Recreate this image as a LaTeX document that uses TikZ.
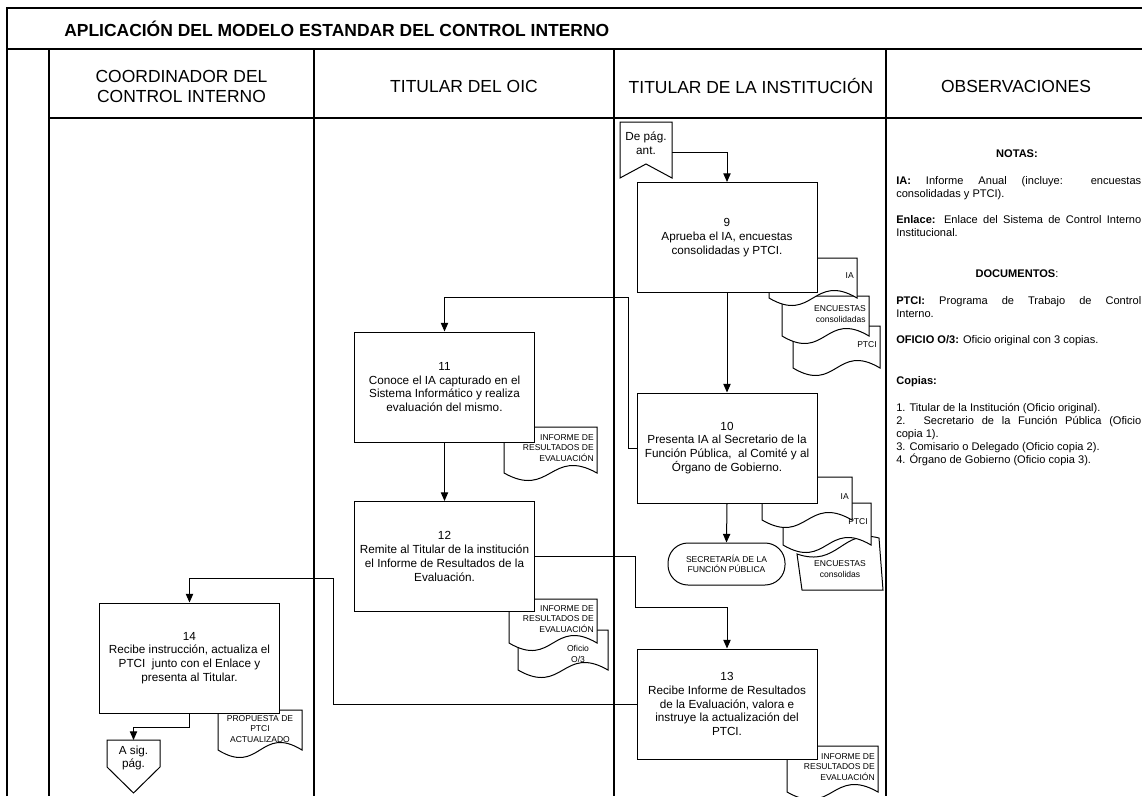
\documentclass[tikz,border=0pt]{standalone}
\usepackage{fontspec}
\setmainfont{Liberation Sans}
\usetikzlibrary{arrows.meta}
\newcommand{\docshape}[6]{%
  \draw[docline] (#2,#3) -- (#4,#3) -- (#4,#5)
    .. controls ({(#2+#4)/2},{#5-26}) and ({(#2+#4)/2},{#5+26}) .. (#2,#5) -- cycle;
  \node[doctext] (#1) at ({#4-3},{(#3+#5)/2-2}) {#6};
}
\begin{document}
\begin{tikzpicture}[x=0.75pt,y=-0.75pt,
  frameline/.style={line width=1pt},
  proc/.style={draw, line width=0.75pt, fill=white, minimum width=135pt, minimum height=82.5pt, align=center, inner sep=2pt, font=\fontsize{8.8}{10.4}\selectfont},
  docline/.style={draw, line width=0.75pt, fill=white},
  doctext/.style={anchor=east, align=right, inner sep=0pt, font=\fontsize{6.4}{8}\selectfont},
  conn/.style={line width=0.75pt, -{Triangle[length=6.5pt,width=5.5pt]}},
  wire/.style={line width=0.75pt},
  lanehead/.style={align=center, inner sep=0pt, font=\fontsize{13.1}{15}\selectfont},
  obs/.style={anchor=base west, inner sep=0pt, align=left, font=\fontsize{8.3}{9.75}\selectfont},
  obshead/.style={anchor=base, inner sep=0pt, font=\fontsize{8.3}{9.75}\selectfont\bfseries},
  pagetext/.style={align=center, inner sep=0pt, font=\fontsize{8.8}{10.4}\selectfont},
]
\path[use as bounding box] (0,0) rectangle (1142,796);

% frame and lanes
\draw[frameline] (7,796) -- (7,8) -- (1142,8);
\draw[frameline] (7,49) -- (1142,49);
\draw[frameline] (49,49) -- (49,796);
\draw[frameline] (49,118) -- (1142,118);
\foreach \x in {314,614,886} \draw[frameline] (\x,49) -- (\x,796);

\node[anchor=west, inner sep=0pt, font=\fontsize{13.1}{15}\selectfont\bfseries] (title) at (64,29) {APLICACIÓN DEL MODELO ESTANDAR DEL CONTROL INTERNO};

\node[lanehead] (h1) at (181.5,86) {COORDINADOR DEL\\CONTROL INTERNO};
\node[lanehead] (h2) at (464,86) {TITULAR DEL OIC};
\node[lanehead] (h3) at (751,86) {TITULAR DE LA INSTITUCIÓN};
\node[lanehead] (h4) at (1016,86) {OBSERVACIONES};

% off-page connectors
\draw[wire, fill=white] (620,122) -- (672,122) -- (672,178) -- (646,164) -- (620,178) -- cycle;
\node[pagetext] (dpa) at (646,143) {De pág.\\ant.};
\coordinate (dpaout) at (672,152);

\draw[wire, fill=white] (107,740) -- (160,740) -- (160,767) -- (133.5,793) -- (107,767) -- cycle;
\node[pagetext] (asig) at (133.5,758) {A sig.\\pág.};
\coordinate (asigin) at (133.5,740);

% documents (drawn back to front)
\docshape{d9c}{793}{326}{880}{368}{PTCI}
\docshape{d9b}{782}{296}{869}{336}{ENCUESTAS\\consolidadas}
\docshape{d9a}{769}{258}{857}{298}{IA}

\draw[docline] (797,554) .. controls (838,568) and (842,528) .. (879,538) -- (883,590) -- (802,590) -- cycle;
\node[doctext, anchor=center, align=center] (d10c) at (840,569) {ENCUESTAS\\consolidas};
\docshape{d10b}{783}{503}{871}{545}{PTCI}
\docshape{d10a}{762}{477}{852}{520}{IA}

\docshape{d11}{504}{427}{597}{473}{INFORME DE\\RESULTADOS DE\\EVALUACIÓN}

\draw[docline] (518,630) -- (608,630) -- (608,670) .. controls (563,644) and (563,696) .. (518,670) -- cycle;
\node[doctext, anchor=center, align=center] (d12b) at (578,654) {Oficio\\O/3};
\docshape{d12a}{509}{599}{597}{643}{INFORME DE\\RESULTADOS DE\\EVALUACIÓN}

\docshape{d13}{787}{746}{878}{792}{INFORME DE\\RESULTADOS DE\\EVALUACIÓN}

\draw[docline] (218,710) -- (302,710) -- (302,750) .. controls (260,724) and (260,776) .. (218,750) -- cycle;
\node[doctext, anchor=center, align=center] (d14) at (260,729) {PROPUESTA DE\\PTCI\\ACTUALIZADO};

% process boxes
\node[proc] (b9) at (727,237.5) {9\\Aprueba el IA, encuestas\\consolidadas y PTCI.};
\node[proc] (b10) at (727,448) {10\\Presenta IA al Secretario de la\\Función Pública,\ \ al Comité y al\\Órgano de Gobierno.};
\node[proc] (b11) at (444.5,387) {11\\Conoce el IA capturado en el\\Sistema Informático y realiza\\evaluación del mismo.};
\node[proc] (b12) at (444.5,556.5) {12\\Remite al Titular de la institución\\el Informe de Resultados de la\\Evaluación.};
\node[proc] (b13) at (727,704) {13\\Recibe Informe de Resultados\\de la Evaluación, valora e\\instruye la actualización del\\PTCI.};
\node[proc] (b14) at (189.5,658) {14\\Recibe instrucción, actualiza el\\PTCI\ \ junto con el Enlace y\\presenta al Titular.};

\node[draw, wire, fill=white, rounded corners=15pt, minimum width=87.75pt, minimum height=31.5pt, align=center, inner sep=1pt, font=\fontsize{6.4}{8}\selectfont] (sfp) at (726.5,564) {SECRETARÍA DE LA\\FUNCIÓN PÚBLICA};

% connectors
\coordinate (c1) at (628,297);
\coordinate (c2) at (635,607);
\coordinate (c3) at (333,578);
\draw[conn] (dpaout) -| (b9.north);
\draw[conn] (b9.south) -- (b10.north);
\draw[conn] (b10.south) -- (sfp.north);
\draw[conn] (b10.west) -| (c1) -| (b11.north);
\draw[conn] (b11.south) -- (b12.north);
\draw[conn] (b12.east) -| (c2) -| (b13.north);
\draw[conn] (b13.west) -| (c3) -| (b14.north);
\draw[conn] (b14.south) -- ++(0,14) -| (asigin);

% observaciones
\node[obshead] (notas) at (1017,157) {NOTAS:};
\node[obs] (o1) at (896,184) {\makebox[183.75pt][s]{\textbf{IA:} Informe Anual (incluye: encuestas}};
\node[obs] (o2) at (896,197) {consolidadas y PTCI).};
\node[obs] (o3) at (896,223) {\makebox[183.75pt][s]{\textbf{Enlace:} Enlace del Sistema de Control Interno}};
\node[obs] (o4) at (896,236) {Institucional.};
\node[obshead] (docs) at (1017,277) {DOCUMENTOS\mdseries:};
\node[obs] (o5) at (896,304) {\makebox[183.75pt][s]{\textbf{PTCI:} Programa de Trabajo de Control}};
\node[obs] (o6) at (896,317) {Interno.};
\node[obs] (o7) at (896,343) {\textbf{OFICIO O/3:} Oficio original con 3 copias.};
\node[obs] (o8) at (896,384) {\textbf{Copias:}};
\node[obs] (o9) at (896,411) {1. Titular de la Institución (Oficio original).};
\node[obs] (o10) at (896,424) {\makebox[183.75pt][s]{2. Secretario de la Función Pública (Oficio}};
\node[obs] (o11) at (896,437) {copia 1).};
\node[obs] (o12) at (896,450) {3. Comisario o Delegado (Oficio copia 2).};
\node[obs] (o13) at (896,463) {4. Órgano de Gobierno (Oficio copia 3).};
\end{tikzpicture}
\end{document}
